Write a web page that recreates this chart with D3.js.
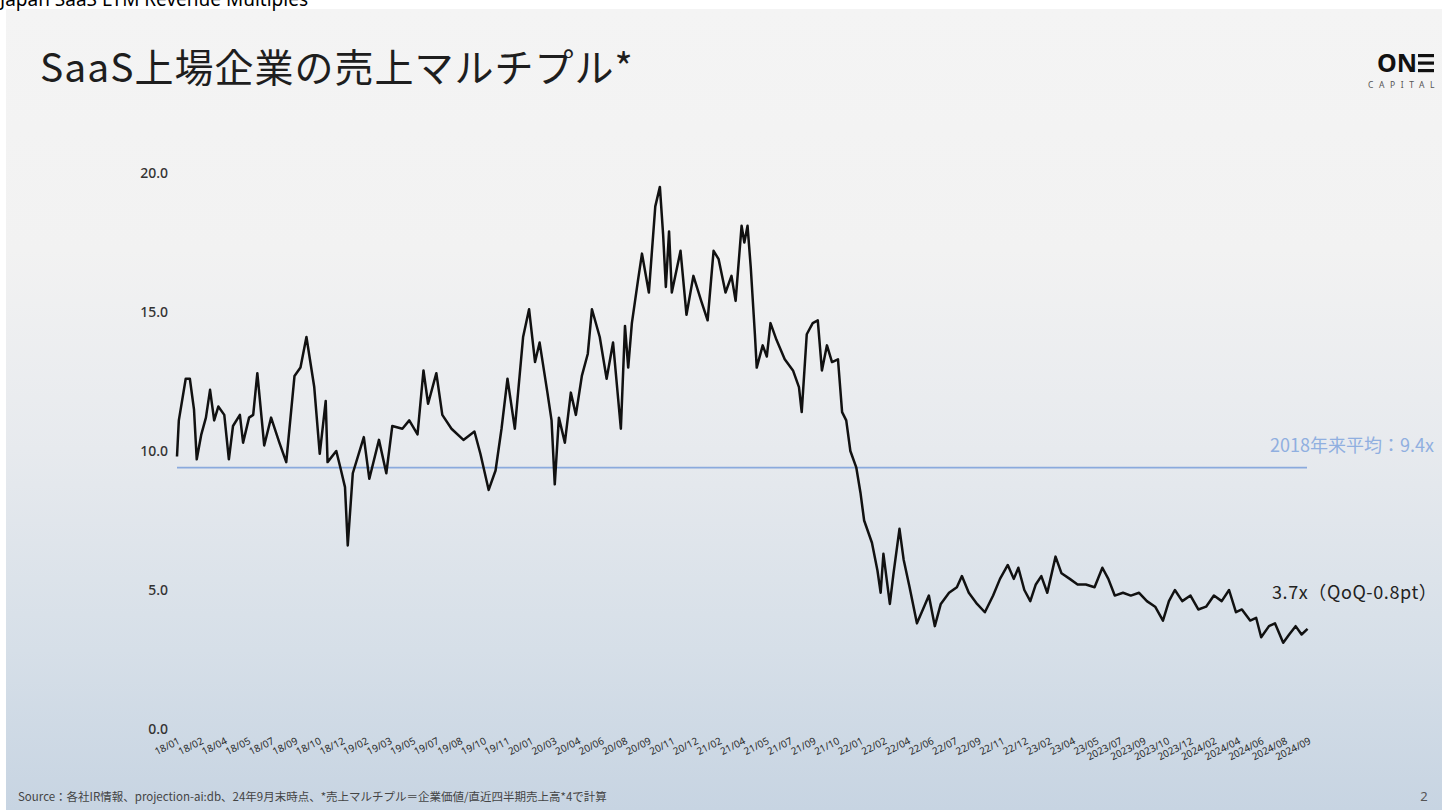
<!DOCTYPE html>
<html><head><meta charset="utf-8">
<script src="https://cdn.jsdelivr.net/npm/d3@7"></script>
<style>body{margin:0;background:#fff;} svg{display:block;}</style>
</head><body><svg id="c" width="1448" height="810"></svg>
<script>
const dates=["2018-01-01","2018-01-05","2018-01-20","2018-01-29","2018-02-07","2018-02-13","2018-02-23","2018-03-05","2018-03-14","2018-03-23","2018-04-01","2018-04-14","2018-04-24","2018-05-03","2018-05-18","2018-05-25","2018-06-07","2018-06-16","2018-06-25","2018-07-10","2018-07-25","2018-08-12","2018-08-27","2018-09-14","2018-09-27","2018-10-10","2018-10-27","2018-11-08","2018-11-21","2018-11-25","2018-12-14","2018-12-23","2019-01-02","2019-01-08","2019-01-19","2019-02-12","2019-02-24","2019-03-17","2019-04-02","2019-04-15","2019-05-07","2019-05-22","2019-06-09","2019-06-22","2019-07-02","2019-07-20","2019-08-02","2019-08-22","2019-09-17","2019-10-11","2019-10-24","2019-11-11","2019-11-26","2019-12-09","2019-12-22","2020-01-07","2020-01-25","2020-02-07","2020-02-20","2020-03-01","2020-03-18","2020-03-27","2020-04-03","2020-04-12","2020-04-25","2020-05-08","2020-05-19","2020-06-01","2020-06-14","2020-06-23","2020-07-10","2020-07-25","2020-08-08","2020-08-25","2020-09-03","2020-09-10","2020-09-18","2020-10-01","2020-10-10","2020-10-25","2020-11-08","2020-11-18","2020-11-25","2020-12-01","2020-12-08","2020-12-14","2021-01-02","2021-01-15","2021-01-30","2021-02-16","2021-03-02","2021-03-15","2021-03-26","2021-04-10","2021-04-23","2021-05-02","2021-05-15","2021-05-21","2021-05-28","2021-06-04","2021-06-13","2021-06-17","2021-06-30","2021-07-09","2021-07-17","2021-07-30","2021-08-17","2021-09-04","2021-09-17","2021-09-23","2021-10-04","2021-10-17","2021-10-28","2021-11-06","2021-11-17","2021-11-28","2021-12-11","2021-12-20","2021-12-29","2022-01-07","2022-01-20","2022-01-29","2022-02-06","2022-02-23","2022-03-07","2022-03-14","2022-03-20","2022-04-03","2022-04-11","2022-04-24","2022-05-03","2022-05-16","2022-06-01","2022-06-14","2022-06-27","2022-07-10","2022-07-23","2022-08-10","2022-08-27","2022-09-07","2022-09-22","2022-10-10","2022-10-27","2022-11-14","2022-11-29","2022-12-16","2022-12-29","2023-01-08","2023-01-21","2023-02-03","2023-02-15","2023-02-27","2023-03-12","2023-03-30","2023-04-12","2023-04-30","2023-05-17","2023-06-04","2023-06-23","2023-07-10","2023-07-23","2023-08-06","2023-08-24","2023-09-10","2023-09-28","2023-10-15","2023-11-02","2023-11-19","2023-12-02","2023-12-15","2023-12-31","2024-01-18","2024-02-04","2024-02-21","2024-03-09","2024-03-26","2024-04-11","2024-04-26","2024-05-09","2024-05-27","2024-06-09","2024-06-20","2024-07-07","2024-07-20","2024-08-07","2024-08-20","2024-09-03","2024-09-16","2024-09-29"];
const values=[9.8,11.1,12.6,12.6,11.5,9.7,10.6,11.2,12.2,11.1,
11.6,11.3,9.7,10.9,11.3,10.3,11.2,11.3,12.8,10.2,
11.2,10.3,9.6,12.7,13.0,14.1,12.3,9.9,11.8,9.6,
10.0,9.4,8.7,6.6,9.2,10.5,9.0,10.4,9.2,10.9,
10.8,11.1,10.6,12.9,11.7,12.8,11.3,10.8,10.4,10.7,
9.9,8.6,9.3,10.8,12.6,10.8,14.1,15.1,13.2,13.9,
12.1,11.1,8.8,11.2,10.3,12.1,11.3,12.7,13.5,15.1,
14.1,12.6,13.9,10.8,14.5,13.0,14.6,16.1,17.1,15.7,
18.8,19.5,17.8,15.9,17.9,15.7,17.2,14.9,16.3,15.4,
14.7,17.2,16.9,15.7,16.3,15.4,18.1,17.5,18.1,16.6,
14.2,13.0,13.8,13.4,14.6,14.0,13.3,12.9,12.3,11.4,
14.2,14.6,14.7,12.9,13.8,13.2,13.3,11.4,11.1,10.0,
9.4,8.5,7.5,6.7,5.7,4.9,6.3,4.5,5.6,7.2,
6.1,5.1,3.8,4.3,4.8,3.7,4.5,4.9,5.1,5.5,
4.9,4.5,4.2,4.8,5.4,5.9,5.4,5.8,5.0,4.6,
5.2,5.5,4.9,6.2,5.6,5.4,5.2,5.2,5.1,5.8,
5.4,4.8,4.9,4.8,4.9,4.6,4.4,3.9,4.6,5.0,
4.6,4.8,4.3,4.4,4.8,4.6,5.0,4.2,4.3,3.9,
4.0,3.3,3.7,3.8,3.1,3.4,3.7,3.4,3.6];
const xLabels=["18/01","18/02","18/04","18/05","18/07","18/09","18/10","18/12","19/02","19/03","19/05","19/07","19/08","19/10","19/11","20/01","20/03","20/04","20/06","20/08","20/09","20/11","20/12","21/02","21/04","21/05","21/07","21/09","21/10","22/01","22/02","22/04","22/06","22/07","22/09","22/11","22/12","23/02","23/04","23/05","2023/07","2023/09","2023/10","2023/12","2024/02","2024/04","2024/06","2024/08","2024/09"];
const yTicks=[0,5,10,15,20];
const avgValue=9.4;
const avgLabel="2018年来平均：9.4x";
const lastLabel="3.7x（QoQ-0.8pt）";
const titleText="SaaS上場企業の売上マルチプル*";
const headerText="Japan SaaS LTM Revenue Multiples";
const sourceText="Source：各社IR情報、projection-ai:db、24年9月末時点、*売上マルチプル＝企業価値/直近四半期売上高*4で計算";

const svg=d3.select("#c");
const defs=svg.append("defs");
const grad=defs.append("linearGradient").attr("id","bg").attr("x1",0).attr("y1",0).attr("x2",0).attr("y2",1);
[[0,"#f4f4f4"],[0.3,"#f2f2f2"],[0.55,"#e7eaee"],[0.8,"#d6dfe8"],[1,"#c7d4e2"]].forEach(s=>grad.append("stop").attr("offset",s[0]).attr("stop-color",s[1]));
svg.append("rect").attr("x",6).attr("y",9).attr("width",1436).attr("height",801).attr("fill","url(#bg)");

svg.append("text").attr("x",0).attr("y",6).attr("font-family","Noto Sans, DejaVu Sans").attr("font-size",19).attr("fill","#000").text(headerText);

svg.append("text").attr("x",40).attr("y",82).attr("font-family","Noto Sans CJK JP").attr("font-size",39).attr("letter-spacing",1).attr("fill","#1e1e1e").text(titleText);

// logo
const logo=svg.append("g");
logo.append("text").attr("x",1377).attr("y",72).attr("font-family","Noto Sans, Roboto").attr("font-weight",700).attr("font-size",25).attr("fill","#111").text("ON");
[54,61.5,69].forEach(yy=>logo.append("rect").attr("x",1418).attr("y",yy).attr("width",16).attr("height",3.2).attr("fill","#111"));
logo.append("text").attr("x",1368).attr("y",88).attr("font-family","Noto Sans").attr("font-size",8.5).attr("letter-spacing",5.6).attr("fill","#555").text("CAPITAL");

const parse=d3.timeParse("%Y-%m-%d");
const data=dates.map((d,i)=>({date:parse(d),value:values[i]}));
const x=d3.scaleTime().domain([new Date(2018,0,1),new Date(2024,8,30)]).range([177,1308]);
const y=d3.scaleLinear().domain([0,20]).range([729,173]);
const xl=d3.scalePoint().domain(xLabels).range([177,1308]);

const ya=svg.append("g").attr("transform","translate(177,0)").call(d3.axisLeft(y).tickValues(yTicks).tickFormat(d3.format(".1f")).tickSize(0).tickPadding(9));
ya.select(".domain").remove();
ya.selectAll("text").attr("font-family","Noto Sans, Roboto").attr("font-size",14).attr("font-weight",500).attr("fill","#333");

const xa=svg.append("g").attr("transform","translate(0,737)").call(d3.axisBottom(xl).tickSize(0));
xa.select(".domain").remove();
xa.selectAll("text").attr("font-family","Noto Sans, Roboto").attr("font-size",10).attr("fill","#2a2a2a")
  .attr("text-anchor","end").attr("x",0).attr("y",0).attr("dy","0.7em").attr("transform","rotate(-27)");

// average line
svg.append("line").attr("x1",x.range()[0]).attr("x2",1307).attr("y1",y(avgValue)).attr("y2",y(avgValue)).attr("stroke","#8aaadd").attr("stroke-width",1.8);
svg.append("text").attr("x",1434).attr("y",y(avgValue)-16).attr("text-anchor","end").attr("font-family","Noto Sans CJK JP").attr("font-size",18).attr("fill","#90afe0").text(avgLabel);

const line=d3.line().x(d=>x(d.date)).y(d=>y(d.value));
svg.append("path").datum(data).attr("d",line).attr("fill","none").attr("stroke","#111").attr("stroke-width",2.5).attr("stroke-linejoin","round");

svg.append("text").attr("x",1272).attr("y",y(values[values.length-1])-30).attr("font-family","Noto Sans CJK JP").attr("font-size",18).attr("letter-spacing",0.6).attr("fill","#222").text(lastLabel);

svg.append("text").attr("x",18).attr("y",801).attr("font-family","Noto Sans CJK JP").attr("font-size",11.5).attr("fill","#444").text(sourceText);
svg.append("text").attr("x",1424).attr("y",801).attr("text-anchor","middle").attr("font-family","Noto Sans").attr("font-size",13).attr("fill","#555").text("2");
</script></body></html>
